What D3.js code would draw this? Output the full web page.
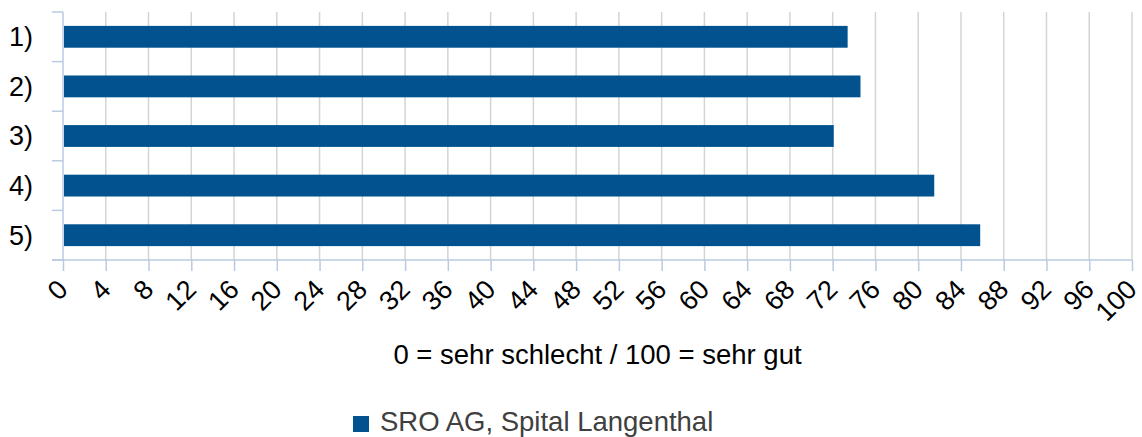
<!DOCTYPE html>
<html><head><meta charset="utf-8">
<script src="https://cdn.jsdelivr.net/npm/d3@7"></script>
<style>body{margin:0;background:#fff}svg{display:block}text{font-family:"Liberation Sans",Arial,sans-serif}</style>
</head><body><svg id="c" width="1142" height="437"></svg>
<script>
const categories = ["1)", "2)", "3)", "4)", "5)"];
const values = [73.4, 74.6, 72.1, 81.5, 85.8];
const tickValues = [0,4,8,12,16,20,24,28,32,36,40,44,48,52,56,60,64,68,72,76,80,84,88,92,96,100];
const seriesName = "SRO AG, Spital Langenthal";
const axisTitle = "0 = sehr schlecht / 100 = sehr gut";

const svg = d3.select("#c");
const L = 63, R = 1132, T = 12, B = 260;
const x = d3.scaleLinear().domain([0,100]).range([L,R]);
const y = d3.scaleBand().domain(categories).range([T,B]).padding(0);
const barH = y.bandwidth()*0.44;
const axisCol = "#b9cbe2", gridCol = "#d4d4d4", barCol = "#02528f";

// gridlines
svg.append("g").selectAll("line").data(tickValues.filter(d=>d>0)).join("line")
  .attr("x1",d=>x(d)).attr("x2",d=>x(d)).attr("y1",T).attr("y2",B)
  .attr("stroke",gridCol).attr("stroke-width",1.5);

// bars
svg.append("g").selectAll("rect").data(values).join("rect")
  .attr("x",x(0)+1).attr("y",(d,i)=>y(categories[i])+(y.bandwidth()-barH)/2)
  .attr("width",d=>x(d)-x(0)-1).attr("height",barH).attr("fill",barCol);

// bottom axis
const xa = svg.append("g").attr("transform",`translate(0,${B})`)
  .call(d3.axisBottom(x).tickValues(tickValues).tickSize(11).tickFormat(d=>d));
xa.select(".domain").remove();
xa.selectAll(".tick line").attr("stroke",axisCol).attr("stroke-width",1.5);
xa.append("line").attr("x1",52).attr("x2",R).attr("y1",0).attr("y2",0).attr("stroke",axisCol).attr("stroke-width",1.5);
xa.selectAll(".tick text").attr("font-size",27).attr("fill","#000")
  .attr("text-anchor","end").attr("dy",0).attr("y",0)
  .attr("transform","translate(6,31) rotate(-45)");

// left axis
const ya = svg.append("g");
const bounds = categories.map(c=>y(c)).concat([B]);
ya.selectAll("line.t").data(bounds).join("line").attr("class","t")
  .attr("x1",52).attr("x2",L).attr("y1",d=>d).attr("y2",d=>d).attr("stroke",axisCol).attr("stroke-width",1.5);
ya.append("line").attr("x1",L).attr("x2",L).attr("y1",T).attr("y2",B).attr("stroke",axisCol).attr("stroke-width",1.5);
ya.selectAll("text").data(categories).join("text")
  .attr("x",33).attr("y",d=>y(d)+y.bandwidth()/2).attr("dy","0.35em")
  .attr("text-anchor","end").attr("font-size",27).attr("fill","#000").text(d=>d);

// axis title
svg.append("text").attr("x",(L+R)/2).attr("y",364).attr("text-anchor","middle")
  .attr("font-size",27.5).attr("fill","#000").text(axisTitle);

// legend
svg.append("rect").attr("x",353).attr("y",416).attr("width",16).attr("height",16).attr("fill",barCol);
svg.append("text").attr("x",380).attr("y",430.5).attr("font-size",27.5).attr("fill","#404040").text(seriesName);
</script></body></html>
